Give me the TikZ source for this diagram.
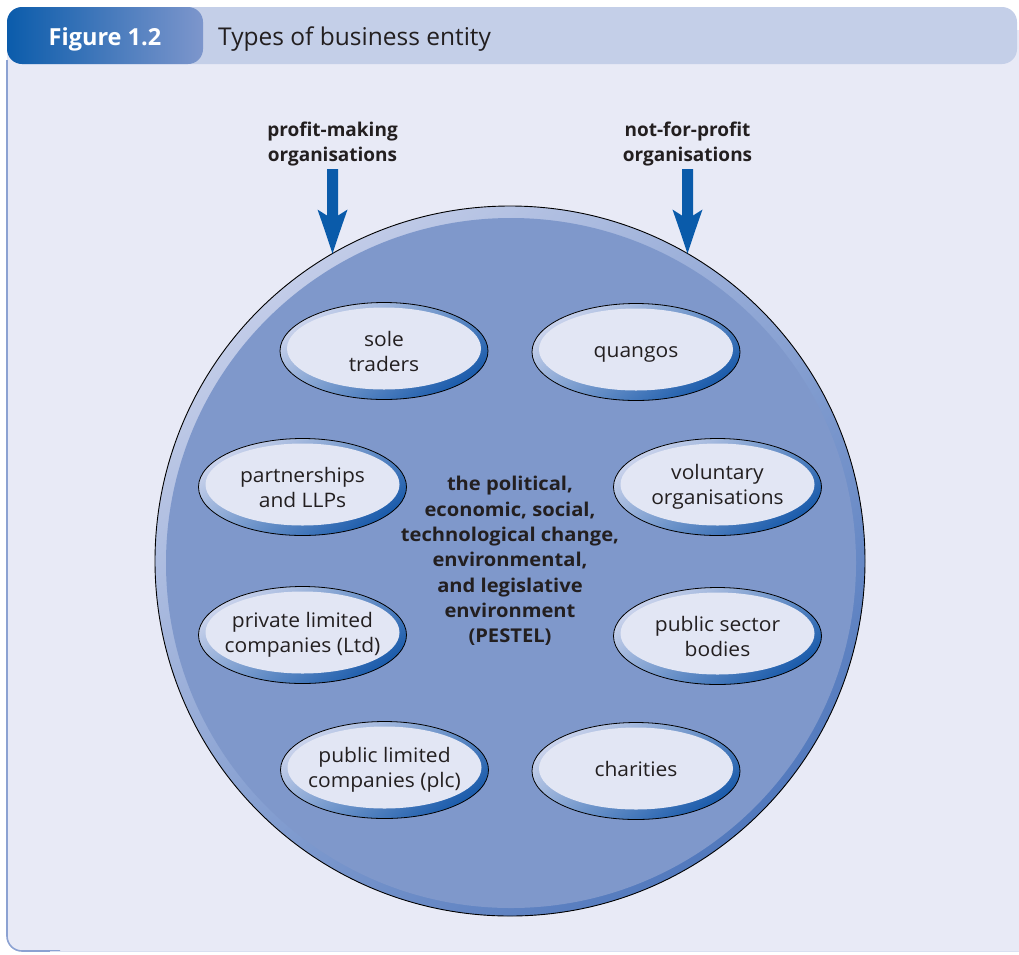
\documentclass[tikz,border=0pt]{standalone}
\usepackage{fontspec}
\setmainfont{Open Sans}
\newfontfamily\entfont[FakeStretch=1.05]{Open Sans}
\newfontfamily\pestfont[FakeStretch=1.06]{Open Sans}
\usetikzlibrary{shapes.geometric}
\definecolor{txt}{HTML}{231F20}
\definecolor{bodybg}{HTML}{E8EAF6}
\definecolor{band}{HTML}{C4CFE8}
\definecolor{tabL}{HTML}{0B5CAB}
\definecolor{tabR}{HTML}{7D96CC}
\definecolor{frame}{HTML}{8CA2D2}
\definecolor{circfill}{HTML}{7F98CB}
\definecolor{rimL}{HTML}{C2CCE8}
\definecolor{rimD}{HTML}{5279BD}
\definecolor{arrowblue}{HTML}{0A5BAA}
\definecolor{ringL}{HTML}{CAD3EC}
\definecolor{ringD}{HTML}{1A5BAB}
\definecolor{inner}{HTML}{E2E6F4}
\tikzset{
  entity/.style={ellipse, minimum width=208pt, minimum height=97pt, inner xsep=-25pt, inner ysep=-15pt,
    draw=black, line width=0.8pt, top color=ringL, bottom color=ringD, shading angle=35,
    align=center, text=txt, font=\entfont\fontsize{20}{25}\selectfont,
    path picture={\fill[inner] ([yshift=2.5pt]path picture bounding box.center) ellipse (97pt and 41pt);}},
  toplabel/.style={align=center, text=txt, font=\bfseries\fontsize{19}{24.5}\selectfont, inner sep=0pt},
}
\begin{document}
\begin{tikzpicture}[x=1pt,y=-1pt]
\useasboundingbox (0,0) rectangle (1019,954);
\clip (0,0) rectangle (1019,954);
\fill[white] (0,0) rectangle (1019,954);
% body panel
\fill[bodybg, rounded corners=15pt] (7,30) -- (7,951) -- (1060,951) -- (1060,30) -- cycle;
\draw[frame, line width=1.6pt, rounded corners=15pt] (7,60) -- (7,951) -- (60,951);
\draw[bodybg!85!frame, line width=1pt] (50,951) -- (1019,951);
% header band
\fill[band, rounded corners=15pt] (7,7) rectangle (1017,64);
\shade[left color=tabL, right color=tabR, rounded corners=15pt] (7,7) rectangle (203,64);
\node[text=white, font=\bfseries\fontsize{23.5}{28}\selectfont, anchor=base] (fig) at (105,45.5) {Figure 1.2};
\node[text=txt, font=\fontsize{24.5}{28}\selectfont, anchor=base west, inner sep=0pt] (title) at (218,45.5) {Types of business entity};
% big circle
\node[circle, minimum size=710pt, inner sep=0pt, outer sep=0pt, draw=black, line width=0.9pt,
  top color=rimL, bottom color=rimD, shading angle=40] (world) at (510,561) {};
\fill[circfill] (511,563) circle (345pt);
% centre text
\node[align=center, text=txt, font=\pestfont\bfseries\fontsize{19}{25.3}\selectfont, inner sep=0pt] (pestel) at (510,561)
  {the political,\\economic, social,\\technological change,\\environmental,\\and legislative\\environment\\(PESTEL)};
% top labels
\node[toplabel, anchor=base] (pm) at (332.5,161) {profit-making\\organisations};
\node[toplabel, anchor=base] (nfp) at (687.5,161) {not-for-profit\\organisations};
\coordinate (pmtop) at (332.5,169);
\coordinate (nfptop) at (687.5,169);
% arrows
\foreach \s/\t in {pmtop/world.120, nfptop/world.60}{
  \fill[arrowblue] ([xshift=-5.5pt]\s) -- ([xshift=5.5pt]\s) -- ([xshift=5.5pt,yshift=38pt]\t)
    -- ([xshift=15pt,yshift=44pt]\t) .. controls ([xshift=8pt,yshift=24pt]\t) .. (\t)
    .. controls ([xshift=-8pt,yshift=24pt]\t) .. ([xshift=-15pt,yshift=44pt]\t)
    -- ([xshift=-5.5pt,yshift=38pt]\t) -- cycle;
}
% entity ellipses
\node[entity] (sole) at (384,351) {sole\\traders};
\node[entity] (quangos) at (636,352) {quangos\vphantom{l}};
\node[entity] (partner) at (302.5,487) {partnerships\\and LLPs};
\node[entity] (voluntary) at (717.5,487) {voluntary\\organisations};
\node[entity] (ltd) at (302.5,635) {private limited\\companies (Ltd)};
\node[entity] (publicsector) at (717.5,636) {public sector\\bodies};
\node[entity] (plc) at (384.5,770) {public limited\\companies (plc)};
\node[entity] (charities) at (636,771) {charities\vphantom{g}};
\end{tikzpicture}
\end{document}
